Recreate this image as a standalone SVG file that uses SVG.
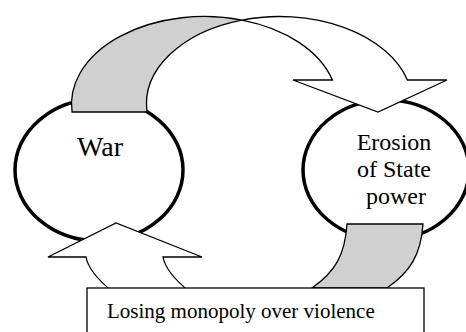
<svg xmlns="http://www.w3.org/2000/svg" width="466" height="332" viewBox="0 0 466 332">
  <style>
    .node { fill: #ffffff; stroke: #000000; stroke-width: 3.5; }
    .box { fill: #ffffff; stroke: #000000; stroke-width: 1.3; }
    .band { fill: #ffffff; stroke: #000000; stroke-width: 1.3; stroke-linejoin: miter; }
    .back { fill: #d0d0d0; stroke: #000000; stroke-width: 1.3; }
    .label { font-family: "Liberation Serif", "Times New Roman", serif; fill: #000000; }
    .mid { text-anchor: middle; }
  </style>

  <!-- nodes -->
  <g id="war">
    <ellipse class="node" cx="99" cy="170" rx="84" ry="71"/>
    <text class="label mid" x="100" y="156" font-size="28">War</text>
  </g>

  <g id="erosion">
    <ellipse class="node" cx="386" cy="170" rx="83" ry="70"/>
    <text class="label mid" x="394" y="150" font-size="24">Erosion</text>
    <text class="label mid" x="394" y="177" font-size="24">of State</text>
    <text class="label mid" x="396" y="204" font-size="24">power</text>
  </g>

  <!-- connectors: curved block arrows -->
  <g id="connectors">
    <!-- War -> Erosion: shaded back face of the ribbon -->
    <path class="back" d="M72.06,112 A133,87.5 0 0 1 242,20.05 A133,87.5 0 0 0 147.06,112 Z"/>
    <!-- War -> Erosion: front face with arrowhead -->
    <path class="band" d="M242,20.05 A133,87.5 0 0 1 407.4,80 L447,80 L378,112 L293,80 L332.4,80 A133,87.5 0 0 0 242,20.05 Z"/>

    <!-- Erosion -> Losing monopoly: shaded ribbon -->
    <path class="back" d="M347,224 L423,224 C421,255 410,272 387,288 L312,288 C335,272 345,255 347,224 Z"/>

    <!-- Losing monopoly -> War: upward arrow -->
    <path class="band" d="M113,292 C98,280 88,268 86,257 L48,257 L116,223 L202,257 L163,257 C165,268 175,280 190,292 Z"/>
  </g>

  <g id="losing-monopoly">
    <rect class="box" x="87" y="288" width="337" height="60"/>
    <text class="label" x="107" y="318" font-size="21">Losing monopoly over violence</text>
  </g>
</svg>
